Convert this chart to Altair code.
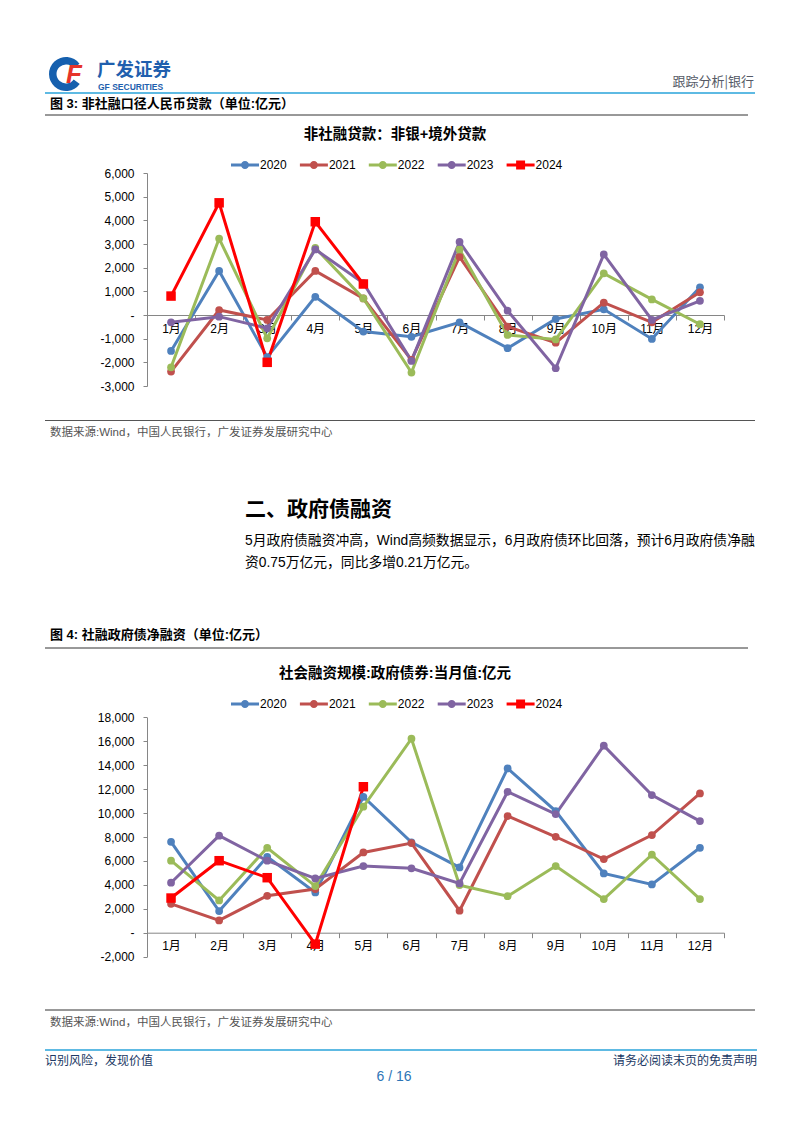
import altair as alt
import pandas as pd

# ---------------- data ----------------
MONTHS = ["1月", "2月", "3月", "4月", "5月", "6月", "7月", "8月", "9月", "10月", "11月", "12月"]
YEARS = ["2020", "2021", "2022", "2023", "2024"]
COLORS = ["#4F81BD", "#C0504D", "#9BBB59", "#8064A2", "#FF0000"]

# 图3 非社融贷款：非银+境外贷款（亿元）
C1_2020 = [-1520, 1860, -1780, 770, -700, -920, -310, -1400, -170, 240, -1010, 1170]
C1_2021 = [-2390, 210, -210, 1860, 700, -1900, 2460, -490, -1170, 520, -310, 960]
C1_2022 = [-2210, 3230, -985, 2840, 700, -2430, 2770, -845, -1030, 1760, 660, -390]
C1_2023 = [-310, -70, -560, 2770, 1350, -1940, 3090, 180, -2250, 2560, -210, 600]
C1_2024 = [800, 4740, -2000, 3940, 1310]
C1_TICKS = [-3000, -2000, -1000, 0, 1000, 2000, 3000, 4000, 5000, 6000]

# 图4 社会融资规模:政府债券:当月值（亿元）
C2_2020 = [7600, 1810, 6350, 3370, 11360, 7550, 5460, 13730, 10170, 4960, 4040, 7100]
C2_2021 = [2420, 1030, 3090, 3650, 6710, 7490, 1840, 9750, 8020, 6160, 8160, 11640]
C2_2022 = [6020, 2700, 7100, 3900, 10530, 16210, 3980, 3060, 5570, 2810, 6520, 2810]
C2_2023 = [4180, 8110, 6020, 4540, 5570, 5380, 4120, 11780, 9920, 15630, 11500, 9330]
C2_2024 = [2900, 6020, 4600, -950, 12200]
C2_TICKS = [-2000, 0, 2000, 4000, 6000, 8000, 10000, 12000, 14000, 16000, 18000]


def long_df(series):
    rows = []
    for yr, vals in zip(YEARS, series):
        for m, v in zip(MONTHS, vals):
            rows.append({"year": yr, "month": m, "value": v})
    return pd.DataFrame(rows)


DF1 = long_df([C1_2020, C1_2021, C1_2022, C1_2023, C1_2024])
DF2 = long_df([C2_2020, C2_2021, C2_2022, C2_2023, C2_2024])
DFY = pd.DataFrame({"year": YEARS})

# ---------------- styling ----------------
W, H = 786, 1117
CJK = "Noto Sans CJK SC"
MIX = "Liberation Sans, Noto Sans CJK SC"
LAT = "Liberation Sans"
AXIS_GRAY = "#868686"

CIRC = ("M-1,-0.11L1,-0.11L1,0.11L-1,0.11Z "
        "M0.29,0A0.29,0.29,0,1,1,-0.29,0A0.29,0.29,0,1,1,0.29,0Z")
SQR = ("M-1,-0.11L1,-0.11L1,0.11L-1,0.11Z "
       "M-0.32,-0.32L0.32,-0.32L0.32,0.32L-0.32,0.32Z")

ONE = pd.DataFrame({"k": [0]})


def P(v):
    # page coordinate -> chart coordinate (8px page margin)
    return v - 8


def txt(s, x, y, size, color="#000000", weight="normal", align="left",
        font=CJK, style="normal"):
    return alt.Chart(ONE).mark_text(
        text=s, fontSize=size, color=color, fontWeight=weight, align=align,
        baseline="middle", font=font, fontStyle=style,
    ).encode(x=alt.value(P(x)), y=alt.value(P(y)))


def hrule(x1, x2, y, color="#333333", width=1.0):
    return alt.Chart(ONE).mark_rule(color=color, strokeWidth=width).encode(
        x=alt.value(P(x1)), x2=alt.value(P(x2)), y=alt.value(P(y)))


CSCALE = alt.Scale(domain=YEARS, range=COLORS)


def panel(df, domain, ypix, ticks, zero_pix):
    xenc = alt.X(
        "month:N", sort=MONTHS, title=None, bandPosition=0.5,
        scale=alt.Scale(type="band", domain=MONTHS, range=[P(147), P(724)],
                        paddingInner=0, paddingOuter=0),
        axis=alt.Axis(orient="bottom", offset=P(zero_pix) - H, tickBand="extent",
                      domainColor=AXIS_GRAY, tickColor=AXIS_GRAY, tickSize=5,
                      labelAngle=0, labelPadding=3, labelFont=MIX, labelFontSize=12,
                      labelColor="#000000", grid=False),
    )
    yenc = alt.Y(
        "value:Q", title=None,
        scale=alt.Scale(domain=domain, range=[P(ypix[0]), P(ypix[1])], nice=False, zero=False),
        axis=alt.Axis(orient="left", offset=-P(147), values=ticks,
                      labelExpr="datum.value == 0 ? '-\u00a0\u00a0' : (datum.value < 0 ? '-' : '') + format(abs(datum.value), ',')",
                      domainColor=AXIS_GRAY, tickColor=AXIS_GRAY, tickSize=4,
                      labelPadding=9, labelFont=LAT, labelFontSize=12,
                      labelColor="#000000", grid=False),
    )
    base = alt.Chart(df).encode(x=xenc, y=yenc)
    lines = base.mark_line(strokeWidth=3).encode(
        color=alt.Color("year:N", scale=CSCALE, legend=None),
        detail="year:N",
    )
    circles = base.transform_filter("datum.year != '2024'").mark_point(
        filled=True, size=60, opacity=1, shape="circle").encode(
        color=alt.Color("year:N", scale=CSCALE, legend=None))
    squares = base.transform_filter("datum.year == '2024'").mark_point(
        filled=True, size=90, opacity=1, shape="square").encode(
        color=alt.Color("year:N", scale=CSCALE, legend=None))
    return alt.layer(lines, circles, squares)


def legend_row(center_y):
    # Excel-style legend: line + marker symbol, then the year label
    lx = alt.X("year:N", sort=YEARS, axis=None,
               scale=alt.Scale(type="point", domain=YEARS,
                               range=[P(245), P(245 + 4 * 68.9)], padding=0))
    b = alt.Chart(DFY).encode(x=lx, y=alt.value(P(center_y)))
    sym = b.mark_point(filled=True, size=784, opacity=1, strokeWidth=0).encode(
        color=alt.Color("year:N", scale=CSCALE, legend=None),
        shape=alt.Shape("year:N", scale=alt.Scale(domain=YEARS, range=[CIRC, CIRC, CIRC, CIRC, SQR]),
                        legend=None),
    )
    lab = b.mark_text(align="left", baseline="middle", dx=15, font=LAT, fontSize=12,
                      color="#000000").encode(text="year:N")
    return alt.layer(sym, lab)


chart1 = panel(DF1, [-3000, 6000], [386, 173], C1_TICKS, 315)
chart2 = panel(DF2, [-2000, 18000], [956.7, 717.3], C2_TICKS, 932.7)
legend1 = legend_row(165)
legend2 = legend_row(704)

logo_arc = alt.Chart(ONE).mark_arc(
    color="#1660AE", theta=2.2, theta2=7.2, radius=17, radius2=9.5
).encode(x=alt.value(P(66)), y=alt.value(P(74)))

decor = [
    # header / logo
    logo_arc,
    txt("F", 66, 75, 26, color="#E6332A", weight="bold", font=LAT, style="italic"),
    txt("广发证券", 97, 70, 18.5, color="#1F5FAE", weight="bold"),
    txt("GF SECURITIES", 98, 87, 8.5, color="#1F5FAE", weight="bold", font=LAT),
    txt("跟踪分析|银行", 754, 82, 13, color="#555A66", align="right"),
    hrule(45, 755, 93, color="#29A3DA", width=1.5),
    # figure 3
    txt("图 3: 非社融口径人民币贷款（单位:亿元）", 50, 104, 13, weight="bold", font=MIX),
    hrule(45, 748, 115, color="#333333"),
    txt("非社融贷款：非银+境外贷款", 395, 135, 14.5, weight="bold", align="center", font=MIX),
    hrule(45, 755, 420.5, color="#555555"),
    txt("数据来源:Wind，中国人民银行，广发证券发展研究中心", 50, 433, 11.5, color="#555555", font=MIX),
    # section text
    txt("二、政府债融资", 245, 510, 21, weight="bold"),
    txt("5月政府债融资冲高，Wind高频数据显示，6月政府债环比回落，预计6月政府债净融", 245, 541, 13.8, font=MIX),
    txt("资0.75万亿元，同比多增0.21万亿元。", 245, 563, 13.8, font=MIX),
    # figure 4
    txt("图 4: 社融政府债净融资（单位:亿元）", 50, 635, 13, weight="bold", font=MIX),
    hrule(45, 748, 648, color="#333333"),
    txt("社会融资规模:政府债券:当月值:亿元", 395, 674, 14.5, weight="bold", align="center", font=MIX),
    hrule(45, 755, 1010, color="#333333"),
    txt("数据来源:Wind，中国人民银行，广发证券发展研究中心", 50, 1023, 11.5, color="#555555", font=MIX),
    # footer
    hrule(45, 757, 1050, color="#29A3DA", width=1.5),
    txt("识别风险，发现价值", 45, 1061, 12, color="#203864"),
    txt("请务必阅读末页的免责声明", 757, 1061, 12, color="#203864", align="right"),
    txt("6 / 16", 394, 1077, 14, color="#2E75B6", align="center", font=LAT),
]

chart = alt.layer(*decor, chart1, chart2, legend1, legend2).resolve_scale(
    x="independent", y="independent", color="independent", shape="independent"
).properties(
    width=W, height=H, padding=0, autosize=alt.AutoSizeParams(type="none"),
    background="white",
).configure_view(stroke=None)

chart.save("out.html", embed_options={"renderer": "svg", "actions": False})
